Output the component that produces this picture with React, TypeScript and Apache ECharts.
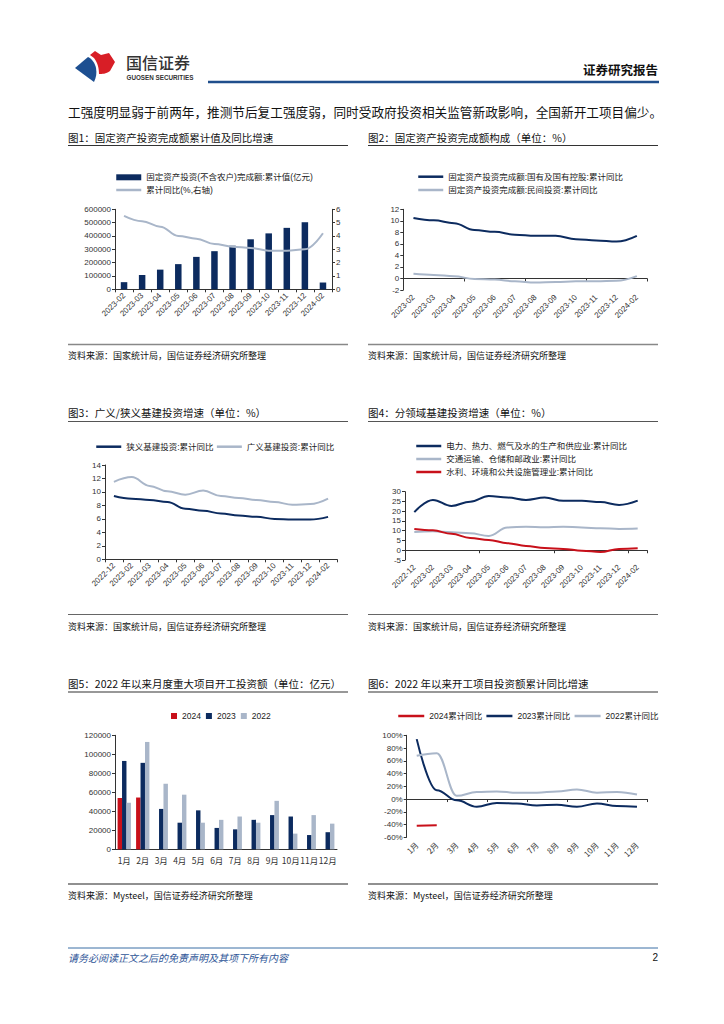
import React, { useEffect, useRef } from "react";
import * as echarts from "echarts";

// ---------- data ----------
const months1 = ["2023-02", "2023-03", "2023-04", "2023-05", "2023-06", "2023-07", "2023-08", "2023-09", "2023-10", "2023-11", "2023-12", "2024-02"];
const faiValue = [53577, 107282, 147482, 188815, 243113, 285898, 327042, 375035, 419409, 460814, 503036, 50847];
const faiYoy = [5.5, 5.1, 4.7, 4.0, 3.8, 3.4, 3.2, 3.1, 2.9, 2.9, 3.0, 4.2];

const soeYoy = [10.5, 10.1, 9.6, 8.4, 8.1, 7.6, 7.4, 7.4, 6.8, 6.6, 6.4, 7.4];
const privateYoy = [0.8, 0.6, 0.4, -0.1, -0.2, -0.5, -0.7, -0.6, -0.5, -0.5, -0.4, 0.4];

const months3 = ["2022-12", "2023-02", "2023-03", "2023-04", "2023-05", "2023-06", "2023-07", "2023-08", "2023-09", "2023-10", "2023-11", "2023-12", "2024-02"];
const narrowInfra = [9.4, 9.0, 8.8, 8.5, 7.5, 7.2, 6.8, 6.5, 6.3, 6.0, 5.9, 5.9, 6.3];
const broadInfra = [11.5, 12.2, 10.9, 10.1, 9.6, 10.2, 9.4, 9.1, 8.8, 8.5, 8.1, 8.2, 9.0];

const powerYoy = [19.5, 25.8, 22.7, 24.9, 27.8, 27.0, 25.8, 27.0, 25.3, 25.3, 24.7, 23.2, 25.4];
const transportYoy = [9.4, 9.7, 9.2, 8.7, 7.3, 11.6, 12.1, 11.8, 12.1, 11.6, 11.3, 10.9, 11.1];
const waterYoy = [10.9, 10.2, 8.4, 6.3, 5.3, 3.6, 2.2, 1.2, 0.7, -0.2, -0.9, 0.7, 1.0];

const monthsCn = ["1月", "2月", "3月", "4月", "5月", "6月", "7月", "8月", "9月", "10月", "11月", "12月"];
const major2024 = [54000, 54500, null, null, null, null, null, null, null, null, null, null];
const major2023 = [93000, 91000, 42500, 28000, 41000, 22500, 21000, 31000, 36000, 34500, 15000, 18000];
const major2022 = [49000, 113000, 69000, 57500, 28000, 31000, 34500, 28000, 51000, 16500, 36000, 27000];

const cum2024 = [-42, -41, null, null, null, null, null, null, null, null, null, null];
const cum2023 = [94, 14, -2, -12, -6, -7, -10, -9, -12, -7, -11, -12];
const cum2022 = [68, 72, 5, 11, 12, 10, 10, 12, 15, 10, 11, 7];

// ---------- styles ----------
const FONT = '"Liberation Sans", "Noto Sans CJK SC", sans-serif';
const CJK = '"Noto Sans CJK SC", sans-serif';
const NAVY = "#0c2b5f";
const LIGHT = "#a9b6c9";
const RED = "#c8101a";

echarts.graphic.registerShape(
  "gsBlue",
  echarts.graphic.extendPath("M2,18 L15,7 C19,9 22,13 23,18 C24,23 23,28 21,32 Z", {})
);
echarts.graphic.registerShape(
  "gsRed",
  echarts.graphic.extendPath("M17,5 L22,1 L28,5 L36,3 L42,12 L37,21 C33,24 29,24 26,24 C26,19 25,13 21,8 Z", {})
);

const txt = (x: number, y: number, text: string, size: number, extra: any = {}) => ({
  type: "text",
  x,
  y,
  silent: true,
  style: { text, fontSize: size, fontFamily: CJK, fill: "#111", align: "left", verticalAlign: "middle", ...extra },
});
const hline = (x1: number, x2: number, y: number, stroke: string, lw: number) => ({
  type: "line",
  silent: true,
  shape: { x1, y1: y, x2, y2: y },
  style: { stroke, lineWidth: lw },
});

const plain = (v: number) => String(v);
const axisLabelBase = { fontSize: 8, color: "#333", fontFamily: FONT };
const axisLineBase = { show: true, onZero: false, lineStyle: { color: "#333", width: 1 } };
const tick = { show: true, length: 3, lineStyle: { color: "#333" } };

const valAxis = (gridIndex: number, min: number, max: number, interval: number, extra: any = {}) => ({
  type: "value",
  gridIndex,
  min,
  max,
  interval,
  splitLine: { show: false },
  axisLine: axisLineBase,
  axisTick: tick,
  axisLabel: { ...axisLabelBase, margin: 4, formatter: plain },
  ...extra,
});

const catAxis = (gridIndex: number, data: string[], extra: any = {}) => ({
  type: "category",
  gridIndex,
  data,
  position: "bottom",
  axisLine: axisLineBase,
  axisTick: tick,
  axisLabel: { ...axisLabelBase, rotate: 45, interval: 0, margin: 5 },
  ...extra,
});

const zeroAxis = (gridIndex: number, data: string[]) => ({
  type: "category",
  gridIndex,
  data,
  position: "bottom",
  axisLine: { show: true, onZero: true, lineStyle: { color: "#333", width: 1 } },
  axisTick: tick,
  axisLabel: { show: false },
});
const labelAxis = (gridIndex: number, data: string[]) => ({
  type: "category",
  gridIndex,
  data,
  position: "bottom",
  axisLine: { show: false, onZero: false },
  axisTick: { show: false },
  axisLabel: { ...axisLabelBase, rotate: 45, interval: 0, margin: 6 },
});

const lineSeries = (name: string, data: any[], color: string, xAxisIndex: number, yAxisIndex: number, extra: any = {}) => ({
  type: "line",
  name,
  data,
  xAxisIndex,
  yAxisIndex,
  smooth: 0.4,
  smoothMonotone: "x",
  symbol: "none",
  showSymbol: false,
  color,
  lineStyle: { color, width: 2 },
  ...extra,
});

const legendText = { fontSize: 8.5, fontFamily: FONT, color: "#222", lineHeight: 11 };
const lineItem = (name: string) => ({ name, itemStyle: { opacity: 0 }, lineStyle: { width: 2.5 } });

// legend names
const L1a = "固定资产投资(不含农户)完成额:累计值(亿元)";
const L1b = "累计同比(%,右轴)";
const L2a = "固定资产投资完成额:国有及国有控股:累计同比";
const L2b = "固定资产投资完成额:民间投资:累计同比";
const L3a = "狭义基建投资:累计同比";
const L3b = "广义基建投资:累计同比";
const L4a = "电力、热力、燃气及水的生产和供应业:累计同比";
const L4b = "交通运输、仓储和邮政业:累计同比";
const L4c = "水利、环境和公共设施管理业:累计同比";

function buildOption(): any {
  const graphic: any[] = [
    // logo
    { type: "gsBlue", x: 73, y: 50, silent: true, style: { fill: "#1d4f91" } },
    { type: "gsRed", x: 73, y: 50, silent: true, style: { fill: "#d81e26" } },
    txt(126, 62, "国信证券", 16, { fill: "#333", fontWeight: 500 }),
    txt(126.5, 77.5, "GUOSEN SECURITIES", 6.3, { fill: "#333", fontFamily: FONT, fontWeight: "bold" }),
    txt(658, 69, "证券研究报告", 12.5, { align: "right", fontWeight: "bold", fill: "#111" }),
    hline(208, 659, 82, "#1f4e8c", 2.5),
    txt(68, 111, "工强度明显弱于前两年，推测节后复工强度弱，同时受政府投资相关监管新政影响，全国新开工项目偏少。", 12.65, { fill: "#111" }),

    // row 1
    txt(68, 137, "图1：固定资产投资完成额累计值及同比增速", 10.5),
    hline(68, 348, 145.5, "#333", 1),
    txt(368, 137, "图2：固定资产投资完成额构成（单位：%）", 10.5),
    hline(368, 658, 145.5, "#333", 1),
    hline(68, 348, 344.5, "#888", 1.5),
    hline(368, 658, 344.5, "#888", 1.5),
    txt(68, 355, "资料来源：国家统计局，国信证券经济研究所整理", 9),
    txt(368, 355, "资料来源：国家统计局，国信证券经济研究所整理", 9),

    // row 2
    txt(68, 412, "图3：广义/狭义基建投资增速（单位：%）", 10.5),
    hline(68, 348, 421.5, "#555", 1.2),
    txt(368, 412, "图4：分领域基建投资增速（单位：%）", 10.5),
    hline(368, 658, 421.5, "#555", 1.2),
    hline(68, 348, 614.5, "#666", 1.2),
    hline(368, 658, 614.5, "#666", 1.2),
    txt(68, 626, "资料来源：国家统计局，国信证券经济研究所整理", 9),
    txt(368, 626, "资料来源：国家统计局，国信证券经济研究所整理", 9),

    // row 3
    txt(68, 683, "图5：2022 年以来月度重大项目开工投资额（单位：亿元）", 10.5),
    hline(68, 348, 692, "#333", 1.2),
    txt(368, 683, "图6：2022 年以来开工项目投资额累计同比增速", 10.5),
    hline(368, 658, 692, "#333", 1.2),
    hline(68, 348, 884, "#222", 1.2),
    hline(368, 658, 884, "#222", 1.2),
    txt(68, 895, "资料来源：Mysteel，国信证券经济研究所整理", 9),
    txt(368, 895, "资料来源：Mysteel，国信证券经济研究所整理", 9),

    // footer
    hline(68, 658, 948, "#3b6fa5", 1),
    txt(68, 957, "请务必阅读正文之后的免责声明及其项下所有内容", 10, { fill: "#2e5597", fontStyle: "italic" }),
    txt(658, 957, "2", 10, { align: "right", fontFamily: FONT, fill: "#111" }),
  ];

  const grid = [
    { left: 115, top: 209.3, width: 217, height: 80 },
    { left: 403.3, top: 209.3, width: 243.7, height: 80.7 },
    { left: 105, top: 465, width: 232, height: 94.3 },
    { left: 405, top: 491.7, width: 242, height: 68.3 },
    { left: 115, top: 735.3, width: 222, height: 114 },
    { left: 406.7, top: 735.3, width: 240.3, height: 102 },
  ].map((g) => ({ ...g, containLabel: false }));

  const xAxis = [
    catAxis(0, months1), // 0
    zeroAxis(1, months1), // 1
    labelAxis(1, months1), // 2
    catAxis(2, months3), // 3
    zeroAxis(3, months3), // 4
    labelAxis(3, months3), // 5
    catAxis(4, monthsCn, { axisTick: { show: false }, axisLabel: { ...axisLabelBase, fontSize: 8.5, fontFamily: CJK, rotate: 0, interval: 0, margin: 6 } }), // 6
    zeroAxis(5, monthsCn), // 7
    { ...labelAxis(5, monthsCn), axisLabel: { ...axisLabelBase, fontFamily: CJK, rotate: 45, interval: 0, margin: 6 } }, // 8
  ];

  const yAxis = [
    valAxis(0, 0, 600000, 100000), // 0
    valAxis(0, 0, 6, 1, { position: "right" }), // 1
    valAxis(1, -2, 12, 2), // 2
    valAxis(2, 0, 14, 2), // 3
    valAxis(3, -5, 30, 5), // 4
    valAxis(4, 0, 120000, 20000), // 5
    valAxis(5, -60, 100, 20, { axisLabel: { ...axisLabelBase, margin: 4, formatter: "{value}%" } }), // 6
  ];

  const series: any[] = [
    { type: "bar", name: L1a, data: faiValue, xAxisIndex: 0, yAxisIndex: 0, barWidth: 6.5, color: NAVY, itemStyle: { color: NAVY } },
    lineSeries(L1b, faiYoy, LIGHT, 0, 1),
    lineSeries(L2a, soeYoy, NAVY, 1, 2),
    lineSeries(L2b, privateYoy, LIGHT, 1, 2),
    lineSeries(L3a, narrowInfra, NAVY, 3, 3),
    lineSeries(L3b, broadInfra, LIGHT, 3, 3),
    lineSeries(L4a, powerYoy, NAVY, 4, 4),
    lineSeries(L4b, transportYoy, LIGHT, 4, 4),
    lineSeries(L4c, waterYoy, RED, 4, 4),
    { type: "bar", name: "2024", data: major2024, xAxisIndex: 6, yAxisIndex: 5, barGap: "0%", barCategoryGap: "28%", color: RED, itemStyle: { color: RED } },
    { type: "bar", name: "2023", data: major2023, xAxisIndex: 6, yAxisIndex: 5, barGap: "0%", barCategoryGap: "28%", color: NAVY, itemStyle: { color: NAVY } },
    { type: "bar", name: "2022", data: major2022, xAxisIndex: 6, yAxisIndex: 5, barGap: "0%", barCategoryGap: "28%", color: LIGHT, itemStyle: { color: LIGHT } },
    lineSeries("2024累计同比", cum2024, RED, 7, 6),
    lineSeries("2023累计同比", cum2023, NAVY, 7, 6),
    lineSeries("2022累计同比", cum2022, LIGHT, 7, 6),
  ];

  const legend = [
    { orient: "vertical", left: 115, top: 171.8, padding: 0, itemGap: 1.7, itemWidth: 25, itemHeight: 6, selectedMode: false, textStyle: legendText, data: [{ name: L1a, icon: "rect" }, lineItem(L1b)] },
    { orient: "vertical", left: 417, top: 171.2, padding: 0, itemGap: 2.3, itemWidth: 25, itemHeight: 6, selectedMode: false, textStyle: legendText, data: [lineItem(L2a), lineItem(L2b)] },
    { orient: "horizontal", left: 95, top: 441.2, padding: 0, itemGap: 2, itemWidth: 25, itemHeight: 6, selectedMode: false, textStyle: legendText, data: [lineItem(L3a), lineItem(L3b)] },
    { orient: "vertical", left: 415, top: 440.5, padding: 0, itemGap: 2, itemWidth: 25, itemHeight: 6, selectedMode: false, textStyle: legendText, data: [lineItem(L4a), lineItem(L4b), lineItem(L4c)] },
    { orient: "horizontal", left: 171, top: 710.5, padding: 0, itemGap: 5, itemWidth: 6, itemHeight: 6, selectedMode: false, textStyle: legendText, data: [{ name: "2024", icon: "rect" }, { name: "2023", icon: "rect" }, { name: "2022", icon: "rect" }] },
    { orient: "horizontal", left: 397, top: 710.5, padding: 0, itemGap: 3, itemWidth: 26, itemHeight: 6, selectedMode: false, textStyle: legendText, data: [lineItem("2024累计同比"), lineItem("2023累计同比"), lineItem("2022累计同比")] },
  ];

  return {
    animation: false,
    backgroundColor: "#fff",
    textStyle: { fontFamily: FONT },
    grid,
    xAxis,
    yAxis,
    series,
    legend,
    graphic,
  };
}

export default function App() {
  const ref = useRef<HTMLDivElement>(null);
  useEffect(() => {
    if (!ref.current) return;
    const chart = echarts.init(ref.current, undefined, { renderer: "svg" });
    chart.setOption(buildOption());
    return () => chart.dispose();
  }, []);
  return (
    <div
      ref={ref}
      style={{ position: "absolute", left: 0, top: 0, width: 724, height: 1024, background: "#fff" }}
    />
  );
}
